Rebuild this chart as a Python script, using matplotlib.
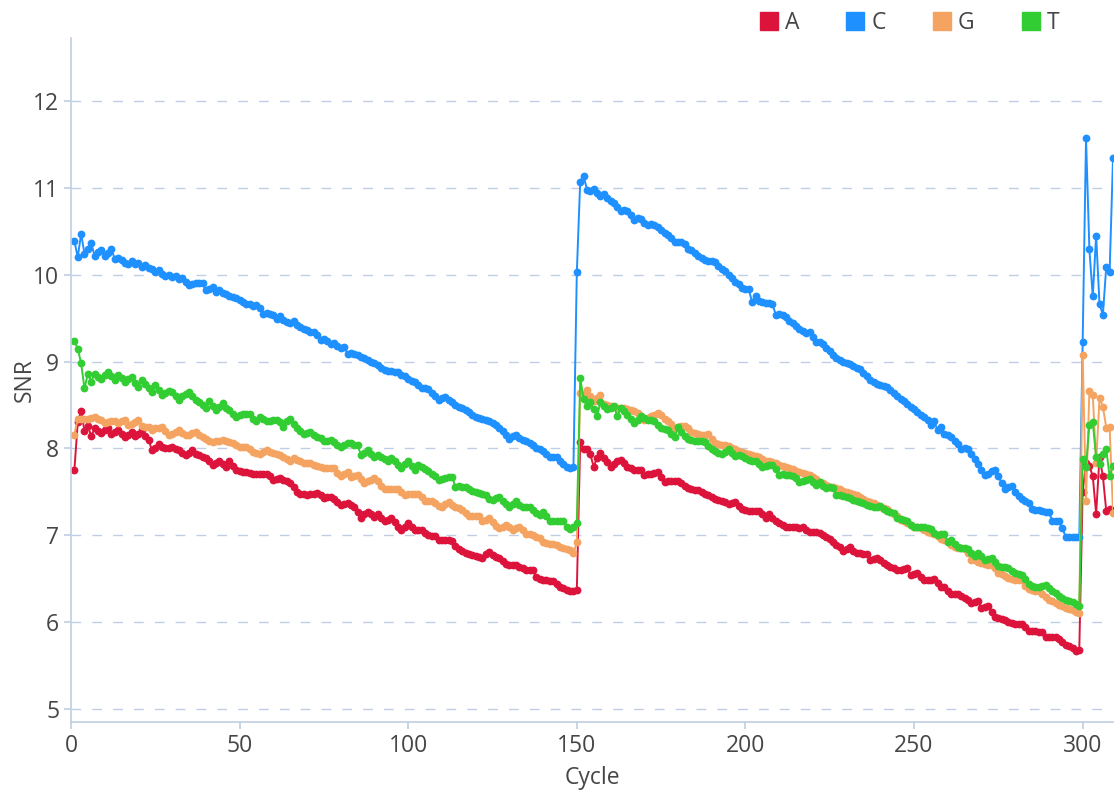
import numpy as np
from matplotlib import pyplot as plt
from matplotlib.lines import Line2D

plt.rcParams['font.family'] = ['Open Sans', 'DejaVu Sans']

# SNR per cycle, cycles 1..309 (read 1: 1-150, read 2: 151-299, index: 300-309)
snr_a = [
    7.75, 8.30, 8.43, 8.20, 8.26, 8.14, 8.23, 8.20, 8.18, 8.21,
    8.23, 8.17, 8.19, 8.21, 8.17, 8.13, 8.16, 8.19, 8.14, 8.17,
    8.21, 8.14, 8.10, 7.98, 8.01, 8.05, 8.02, 8.00, 8.01, 8.02,
    7.99, 7.98, 7.95, 7.92, 7.95, 7.98, 7.94, 7.92, 7.90, 7.89,
    7.85, 7.81, 7.83, 7.85, 7.82, 7.79, 7.85, 7.80, 7.75, 7.74,
    7.73, 7.73, 7.72, 7.71, 7.71, 7.71, 7.71, 7.71, 7.68, 7.64,
    7.65, 7.66, 7.64, 7.62, 7.60, 7.55, 7.50, 7.48, 7.47, 7.46,
    7.48, 7.48, 7.49, 7.46, 7.43, 7.44, 7.44, 7.42, 7.38, 7.35,
    7.36, 7.37, 7.35, 7.33, 7.27, 7.20, 7.24, 7.27, 7.24, 7.21,
    7.25, 7.20, 7.16, 7.18, 7.20, 7.15, 7.10, 7.06, 7.10, 7.14,
    7.10, 7.06, 7.06, 7.06, 7.03, 7.00, 6.99, 6.99, 6.95, 6.95,
    6.94, 6.94, 6.93, 6.88, 6.84, 6.82, 6.80, 6.78, 6.77, 6.76,
    6.75, 6.74, 6.78, 6.81, 6.77, 6.75, 6.74, 6.70, 6.67, 6.66,
    6.66, 6.66, 6.64, 6.62, 6.60, 6.60, 6.60, 6.52, 6.50, 6.48,
    6.48, 6.47, 6.47, 6.44, 6.41, 6.39, 6.37, 6.36, 6.36, 6.37,
    8.07, 7.99, 7.99, 7.93, 7.79, 7.89, 7.95, 7.89, 7.84, 7.79,
    7.82, 7.85, 7.87, 7.83, 7.79, 7.77, 7.75, 7.75, 7.75, 7.69,
    7.70, 7.71, 7.72, 7.73, 7.67, 7.61, 7.62, 7.62, 7.63, 7.63,
    7.60, 7.57, 7.54, 7.53, 7.52, 7.52, 7.50, 7.48, 7.46, 7.44,
    7.42, 7.41, 7.40, 7.38, 7.36, 7.37, 7.38, 7.34, 7.30, 7.29,
    7.28, 7.28, 7.28, 7.28, 7.24, 7.20, 7.24, 7.20, 7.16, 7.14,
    7.12, 7.10, 7.10, 7.09, 7.09, 7.08, 7.10, 7.06, 7.04, 7.04,
    7.04, 7.03, 7.00, 6.98, 6.96, 6.92, 6.89, 6.86, 6.82, 6.84,
    6.86, 6.82, 6.80, 6.79, 6.78, 6.78, 6.72, 6.73, 6.74, 6.71,
    6.68, 6.66, 6.64, 6.62, 6.60, 6.60, 6.61, 6.62, 6.54, 6.55,
    6.56, 6.52, 6.49, 6.48, 6.49, 6.50, 6.45, 6.40, 6.40, 6.36,
    6.32, 6.32, 6.32, 6.30, 6.28, 6.25, 6.22, 6.23, 6.24, 6.16,
    6.17, 6.18, 6.12, 6.06, 6.05, 6.04, 6.02, 6.00, 5.99, 5.98,
    5.98, 5.98, 5.94, 5.90, 5.90, 5.90, 5.89, 5.89, 5.83, 5.83,
    5.83, 5.83, 5.80, 5.77, 5.74, 5.72, 5.70, 5.67, 5.68,
    7.50, 7.83, 7.80, 7.68, 7.25, 7.90, 7.68, 7.28, 7.30, 7.28,
]

snr_c = [
    10.39, 10.20, 10.47, 10.24, 10.30, 10.36, 10.22, 10.26, 10.28, 10.22,
    10.25, 10.29, 10.18, 10.19, 10.17, 10.14, 10.12, 10.16, 10.12, 10.13,
    10.09, 10.11, 10.08, 10.06, 10.03, 10.05, 10.01, 9.98, 10.00, 9.97,
    9.99, 9.95, 9.96, 9.92, 9.88, 9.89, 9.90, 9.90, 9.90, 9.82,
    9.84, 9.86, 9.80, 9.82, 9.79, 9.78, 9.76, 9.74, 9.73, 9.71,
    9.68, 9.66, 9.66, 9.64, 9.65, 9.62, 9.55, 9.56, 9.55, 9.54,
    9.49, 9.52, 9.48, 9.46, 9.44, 9.47, 9.42, 9.40, 9.38, 9.36,
    9.34, 9.34, 9.30, 9.25, 9.26, 9.24, 9.20, 9.21, 9.18, 9.16,
    9.17, 9.09, 9.10, 9.09, 9.07, 9.05, 9.04, 9.02, 9.00, 8.98,
    8.96, 8.93, 8.90, 8.89, 8.89, 8.88, 8.88, 8.85, 8.83, 8.80,
    8.78, 8.76, 8.73, 8.70, 8.69, 8.68, 8.64, 8.60, 8.56, 8.58,
    8.59, 8.56, 8.53, 8.50, 8.48, 8.46, 8.44, 8.42, 8.39, 8.36,
    8.35, 8.34, 8.33, 8.32, 8.29, 8.27, 8.24, 8.20, 8.16, 8.11,
    8.14, 8.15, 8.12, 8.10, 8.08, 8.06, 8.04, 8.01, 7.99, 7.97,
    7.94, 7.90, 7.90, 7.90, 7.86, 7.82, 7.79, 7.77, 7.79, 10.03,
    11.07, 11.14, 10.98, 10.96, 10.99, 10.94, 10.91, 10.93, 10.88, 10.85,
    10.82, 10.78, 10.73, 10.74, 10.73, 10.69, 10.63, 10.65, 10.64, 10.60,
    10.57, 10.58, 10.57, 10.55, 10.51, 10.48, 10.46, 10.42, 10.38, 10.38,
    10.38, 10.35, 10.30, 10.28, 10.25, 10.22, 10.19, 10.17, 10.16, 10.16,
    10.15, 10.10, 10.06, 10.04, 10.00, 9.96, 9.92, 9.89, 9.85, 9.83,
    9.83, 9.68, 9.76, 9.70, 9.68, 9.67, 9.67, 9.66, 9.54, 9.55,
    9.54, 9.51, 9.47, 9.44, 9.41, 9.38, 9.35, 9.33, 9.34, 9.28,
    9.22, 9.22, 9.20, 9.16, 9.12, 9.07, 9.04, 9.02, 9.00, 8.98,
    8.97, 8.95, 8.93, 8.91, 8.87, 8.83, 8.79, 8.76, 8.74, 8.73,
    8.72, 8.71, 8.67, 8.64, 8.60, 8.57, 8.54, 8.51, 8.48, 8.45,
    8.42, 8.39, 8.36, 8.33, 8.27, 8.31, 8.21, 8.25, 8.17, 8.16,
    8.13, 8.09, 8.05, 7.99, 8.00, 7.99, 7.94, 7.88, 7.82, 7.75,
    7.69, 7.71, 7.74, 7.75, 7.68, 7.60, 7.53, 7.56, 7.57, 7.50,
    7.45, 7.42, 7.39, 7.37, 7.30, 7.29, 7.29, 7.28, 7.27, 7.27,
    7.16, 7.16, 7.16, 7.08, 6.98, 6.98, 6.98, 6.98, 6.98,
    9.22, 11.57, 10.29, 9.75, 10.45, 9.66, 9.54, 10.09, 10.03, 11.34,
]

snr_g = [
    8.16, 8.34, 8.34, 8.34, 8.34, 8.35, 8.36, 8.34, 8.33, 8.29,
    8.30, 8.31, 8.31, 8.29, 8.31, 8.33, 8.27, 8.28, 8.30, 8.33,
    8.26, 8.25, 8.25, 8.21, 8.23, 8.24, 8.25, 8.20, 8.15, 8.17,
    8.19, 8.21, 8.18, 8.15, 8.16, 8.18, 8.19, 8.16, 8.13, 8.11,
    8.09, 8.07, 8.08, 8.09, 8.10, 8.09, 8.07, 8.06, 8.04, 8.02,
    8.02, 8.02, 7.99, 7.96, 7.95, 7.94, 7.96, 7.98, 7.96, 7.95,
    7.94, 7.92, 7.90, 7.88, 7.86, 7.89, 7.87, 7.85, 7.83, 7.83,
    7.83, 7.81, 7.80, 7.79, 7.77, 7.77, 7.77, 7.77, 7.72, 7.68,
    7.71, 7.73, 7.67, 7.68, 7.69, 7.65, 7.60, 7.62, 7.64, 7.66,
    7.62, 7.57, 7.53, 7.53, 7.53, 7.53, 7.53, 7.50, 7.46, 7.47,
    7.48, 7.48, 7.48, 7.44, 7.39, 7.40, 7.40, 7.37, 7.34, 7.33,
    7.36, 7.38, 7.35, 7.33, 7.31, 7.29, 7.26, 7.22, 7.22, 7.22,
    7.22, 7.16, 7.18, 7.20, 7.15, 7.11, 7.08, 7.10, 7.12, 7.09,
    7.06, 7.08, 7.10, 7.06, 7.02, 7.01, 7.00, 6.98, 6.97, 6.92,
    6.91, 6.90, 6.90, 6.89, 6.87, 6.85, 6.84, 6.83, 6.79, 6.92,
    8.64, 8.62, 8.67, 8.60, 8.55, 8.58, 8.62, 8.51, 8.50, 8.49,
    8.48, 8.47, 8.47, 8.46, 8.45, 8.44, 8.43, 8.41, 8.37, 8.33,
    8.35, 8.37, 8.39, 8.41, 8.38, 8.34, 8.31, 8.28, 8.24, 8.25,
    8.26, 8.26, 8.23, 8.19, 8.18, 8.17, 8.15, 8.16, 8.17, 8.11,
    8.06, 8.05, 8.04, 8.04, 8.03, 8.01, 7.99, 7.97, 7.96, 7.95,
    7.93, 7.92, 7.91, 7.90, 7.88, 7.86, 7.85, 7.84, 7.83, 7.81,
    7.80, 7.79, 7.77, 7.76, 7.74, 7.73, 7.72, 7.70, 7.69, 7.67,
    7.65, 7.61, 7.60, 7.58, 7.56, 7.55, 7.54, 7.53, 7.51, 7.50,
    7.49, 7.47, 7.46, 7.44, 7.42, 7.40, 7.38, 7.37, 7.35, 7.33,
    7.31, 7.30, 7.27, 7.25, 7.22, 7.18, 7.16, 7.14, 7.12, 7.10,
    7.09, 7.08, 7.06, 7.04, 7.03, 7.01, 6.99, 6.96, 6.94, 6.92,
    6.89, 6.86, 6.85, 6.85, 6.84, 6.80, 6.72, 6.71, 6.69, 6.68,
    6.67, 6.66, 6.66, 6.62, 6.56, 6.55, 6.53, 6.51, 6.50, 6.49,
    6.48, 6.48, 6.42, 6.38, 6.37, 6.36, 6.36, 6.32, 6.29, 6.26,
    6.24, 6.22, 6.20, 6.18, 6.16, 6.15, 6.14, 6.12, 6.11,
    9.08, 7.40, 8.66, 8.62, 7.83, 8.58, 8.48, 8.24, 8.25, 7.26,
]

snr_t = [
    9.24, 9.15, 8.98, 8.69, 8.86, 8.77, 8.86, 8.82, 8.80, 8.84,
    8.88, 8.83, 8.79, 8.85, 8.81, 8.77, 8.80, 8.82, 8.75, 8.71,
    8.79, 8.74, 8.70, 8.65, 8.73, 8.67, 8.61, 8.64, 8.66, 8.65,
    8.60, 8.56, 8.60, 8.63, 8.65, 8.60, 8.56, 8.53, 8.50, 8.46,
    8.54, 8.49, 8.44, 8.48, 8.52, 8.47, 8.44, 8.40, 8.36, 8.38,
    8.40, 8.40, 8.40, 8.34, 8.31, 8.36, 8.34, 8.31, 8.32, 8.33,
    8.33, 8.30, 8.25, 8.31, 8.34, 8.28, 8.23, 8.20, 8.17, 8.18,
    8.19, 8.16, 8.13, 8.12, 8.08, 8.09, 8.10, 8.07, 8.04, 8.02,
    8.04, 8.06, 8.06, 8.04, 8.04, 7.92, 7.95, 7.98, 7.94, 7.90,
    7.92, 7.90, 7.88, 7.86, 7.89, 7.85, 7.81, 7.78, 7.82, 7.85,
    7.80, 7.75, 7.81, 7.79, 7.76, 7.74, 7.71, 7.68, 7.64, 7.65,
    7.66, 7.67, 7.67, 7.56, 7.57, 7.56, 7.55, 7.53, 7.51, 7.50,
    7.49, 7.47, 7.46, 7.42, 7.41, 7.43, 7.44, 7.40, 7.36, 7.33,
    7.36, 7.39, 7.35, 7.32, 7.33, 7.32, 7.29, 7.26, 7.23, 7.27,
    7.22, 7.16, 7.16, 7.16, 7.16, 7.16, 7.10, 7.07, 7.10, 7.14,
    8.81, 8.57, 8.49, 8.53, 8.45, 8.37, 8.53, 8.49, 8.45, 8.47,
    8.49, 8.37, 8.47, 8.43, 8.39, 8.34, 8.29, 8.33, 8.37, 8.35,
    8.33, 8.33, 8.31, 8.27, 8.23, 8.22, 8.21, 8.17, 8.13, 8.25,
    8.19, 8.14, 8.11, 8.10, 8.09, 8.08, 8.08, 8.07, 8.03, 7.99,
    7.97, 7.95, 7.93, 7.96, 7.99, 7.95, 7.91, 7.92, 7.91, 7.89,
    7.87, 7.86, 7.85, 7.82, 7.79, 7.80, 7.81, 7.81, 7.76, 7.69,
    7.70, 7.69, 7.69, 7.68, 7.66, 7.61, 7.63, 7.64, 7.65, 7.61,
    7.58, 7.61, 7.57, 7.54, 7.55, 7.54, 7.46, 7.46, 7.45, 7.44,
    7.43, 7.41, 7.40, 7.38, 7.37, 7.35, 7.34, 7.33, 7.32, 7.34,
    7.30, 7.28, 7.27, 7.26, 7.20, 7.19, 7.17, 7.16, 7.12, 7.10,
    7.10, 7.09, 7.09, 7.08, 7.07, 7.03, 7.00, 7.01, 7.02, 6.92,
    6.94, 6.90, 6.86, 6.85, 6.85, 6.84, 6.80, 6.76, 6.80, 6.76,
    6.72, 6.73, 6.74, 6.69, 6.65, 6.64, 6.63, 6.62, 6.59, 6.56,
    6.55, 6.54, 6.50, 6.44, 6.42, 6.40, 6.41, 6.42, 6.43, 6.39,
    6.36, 6.33, 6.30, 6.28, 6.26, 6.24, 6.23, 6.21, 6.19,
    7.88, 7.79, 8.27, 8.30, 7.90, 7.82, 7.94, 7.99, 7.68, 7.80,
]

bases = ['A', 'C', 'G', 'T']
colors = ['#dc143c', '#1e90ff', '#f4a460', '#32cd32']
series = [snr_a, snr_c, snr_g, snr_t]

axis_col = '#c0cde2'
text_col = '#464646'

fig = plt.figure(figsize=(11.17, 7.95), dpi=100)
ax = fig.add_axes([71 / 1117, 1 - 722 / 795, (1113 - 71) / 1117, (722 - 38) / 795])

for name, col, vals in zip(bases, colors, series):
    cyc = np.arange(1, len(vals) + 1)
    ax.plot(cyc, vals, color=col, lw=1.4, marker='o', ms=4.6, mec=col, mfc=col,
            label=name, solid_joinstyle='round')

ax.set_xlim(0, 309)
ax.set_ylim(4.85, 12.725)
ax.set_xticks(np.arange(0, 301, 50))
ax.set_yticks(np.arange(5, 13, 1))

ax.grid(axis='y', color=axis_col, ls=(0, (7, 8)), lw=1.0)
ax.set_axisbelow(True)
for s in ['top', 'right']:
    ax.spines[s].set_visible(False)
for s in ['left', 'bottom']:
    ax.spines[s].set_color(axis_col)
    ax.spines[s].set_linewidth(1.2)
ax.tick_params(colors=axis_col, labelcolor=text_col, labelsize=16.5, length=5, width=1.2)

ax.set_xlabel('Cycle', fontsize=16.5, color=text_col, labelpad=6)
ax.set_ylabel('SNR', fontsize=16.5, color=text_col, labelpad=-3)

handles = [Line2D([], [], ls='', marker='s', ms=13, color=c) for c in colors]
fig.legend(handles, bases, loc='upper right', bbox_to_anchor=(1071 / 1117, 1.0), ncol=4,
           frameon=False, fontsize=16.5, handletextpad=0.2, columnspacing=1.95,
           handlelength=1.0, labelcolor=text_col, borderaxespad=0.1)

fig.savefig('out.png', dpi=100)
